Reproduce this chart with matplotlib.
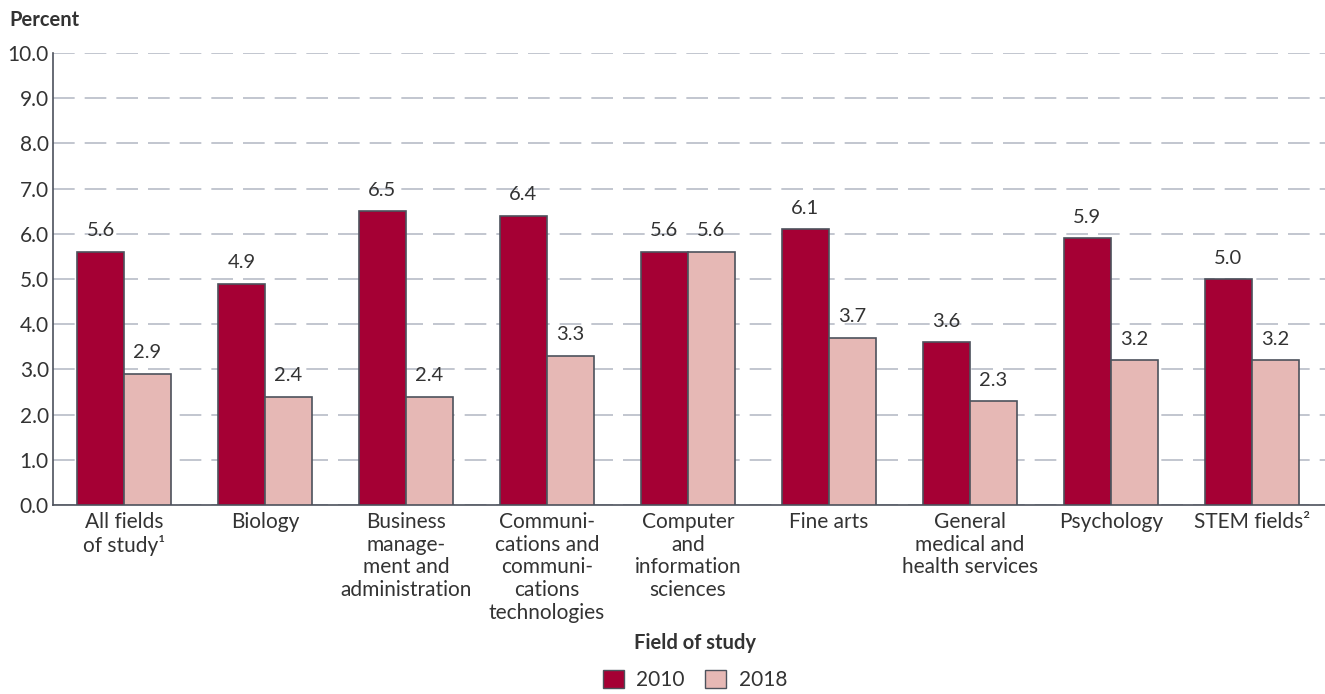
import matplotlib
matplotlib.use("Agg")
import matplotlib.pyplot as plt
import numpy as np
from matplotlib.patches import Patch

plt.rcParams['font.family'] = ['Lato', 'DejaVu Sans']

# Field of study categories and percentages
categories = [
    "All fields\nof study\u00b9",
    "Biology",
    "Business\nmanage-\nment and\nadministration",
    "Communi-\ncations and\ncommuni-\ncations\ntechnologies",
    "Computer\nand\ninformation\nsciences",
    "Fine arts",
    "General\nmedical and\nhealth services",
    "Psychology",
    "STEM fields\u00b2",
]
vals_2010 = [5.6, 4.9, 6.5, 6.4, 5.6, 6.1, 3.6, 5.9, 5.0]
vals_2018 = [2.9, 2.4, 2.4, 3.3, 5.6, 3.7, 2.3, 3.2, 3.2]
series_labels = ["2010", "2018"]
yticks = np.arange(0, 10.01, 1.0)

C2010 = "#A50034"
C2018 = "#E6B8B5"
EDGE = "#4d525c"
TEXT = "#333333"

fig = plt.figure(figsize=(13.25, 6.94), dpi=100)
ax = fig.add_axes([0.04, 0.2723, 0.96, 0.6513])

x = np.arange(len(categories))
w = 0.333
b1 = ax.bar(x - w / 2, vals_2010, w, color=C2010, edgecolor=EDGE, linewidth=1.2, zorder=3)
b2 = ax.bar(x + w / 2, vals_2018, w, color=C2018, edgecolor=EDGE, linewidth=1.2, zorder=3)

for bars, vals in ((b1, vals_2010), (b2, vals_2018)):
    for r, v in zip(bars, vals):
        ax.annotate(f"{v:.1f}", (r.get_x() + r.get_width() / 2, v),
                    xytext=(0, 9), textcoords="offset points",
                    ha="center", va="bottom", fontsize=14.5, color=TEXT)

ax.set_xlim(-0.504, 8.52)
ax.set_ylim(0, 10)
ax.set_yticks(yticks)
ax.set_yticklabels([f"{t:.1f}" for t in yticks], fontsize=15, color=TEXT)
ax.set_xticks(x)
ax.set_xticklabels(categories, fontsize=15, color=TEXT, linespacing=1.17, va="top")
ax.tick_params(axis="x", length=0, pad=5)
ax.tick_params(axis="y", length=0, pad=3)

ax.yaxis.grid(True, color="#b8bcc7", linestyle=(0, (13, 6)), linewidth=1.2, zorder=0)
ax.set_axisbelow(True)
for s in ("top", "right"):
    ax.spines[s].set_visible(False)
ax.spines["left"].set_color(EDGE)
ax.spines["bottom"].set_color(EDGE)
ax.spines["left"].set_linewidth(1.2)
ax.spines["bottom"].set_linewidth(1.2)

fig.text(0.007, 0.971, "Percent", fontsize=14.5, fontweight="bold", color=TEXT, va="center")
fig.text(0.5245, 0.0735, "Field of study", fontsize=14.5, fontweight="bold", color=TEXT,
         ha="center", va="center")

handles = [Patch(facecolor=C2010, edgecolor=EDGE, label=series_labels[0]),
           Patch(facecolor=C2018, edgecolor=EDGE, label=series_labels[1])]
leg = fig.legend(handles=handles, loc="center", bbox_to_anchor=(0.5245, 0.02), ncol=2,
                 frameon=False, fontsize=15, handlelength=1.0, handleheight=0.9,
                 handletextpad=0.6, columnspacing=1.0, borderpad=0)
for t in leg.get_texts():
    t.set_color(TEXT)

fig.savefig("out.png", dpi=100)
